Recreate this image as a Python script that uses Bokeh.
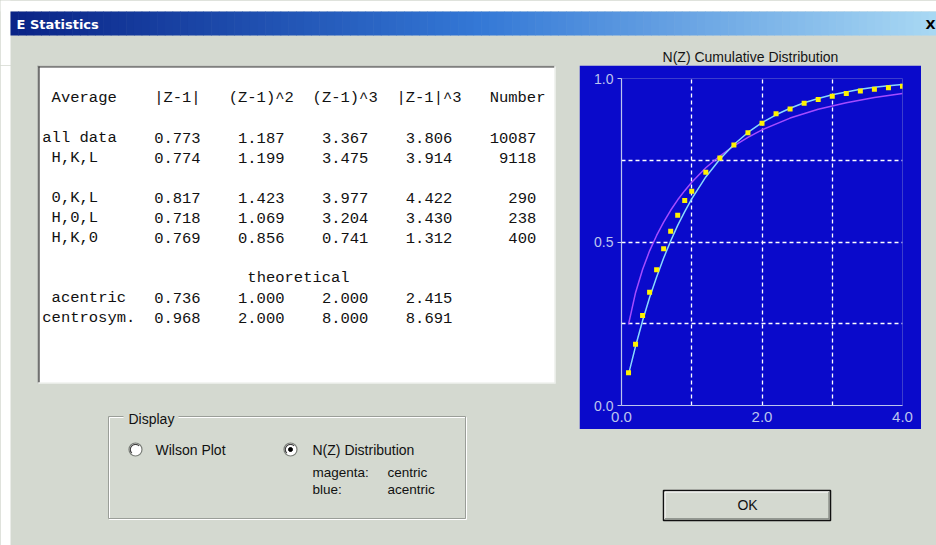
import numpy as np
from bokeh.plotting import figure
from bokeh.layouts import column, row
from bokeh.models import Range1d, FixedTicker, PrintfTickFormatter
from bokeh.core.properties import value
from bokeh.embed import file_html
from bokeh.resources import INLINE

# ---------------- data ----------------
dialog_title = "E Statistics"
chart_title = "N(Z) Cumulative Distribution"

header = ["Average", "|Z-1|", "(Z-1)^2", "(Z-1)^3", "|Z-1|^3", "Number"]

obs_labels = ["all data", " H,K,L", " 0,K,L", " H,0,L", " H,K,0"]
obs_abs_z1 = [0.773, 0.774, 0.817, 0.718, 0.769]
obs_sq_z1 = [1.187, 1.199, 1.423, 1.069, 0.856]
obs_cube_z1 = [3.367, 3.475, 3.977, 3.204, 0.741]
obs_abscube_z1 = [3.806, 3.914, 4.422, 3.430, 1.312]
obs_number = [10087, 9118, 290, 238, 400]

theo_title = "theoretical"
theo_labels = [" acentric", "centrosym."]
theo_abs_z1 = [0.736, 0.968]
theo_sq_z1 = [1.000, 2.000]
theo_cube_z1 = [2.000, 8.000]
theo_abscube_z1 = [2.415, 8.691]

# N(Z) cumulative distribution
obs_z = [0.1, 0.2, 0.3, 0.4, 0.5, 0.6, 0.7, 0.8, 0.9, 1.0, 1.2, 1.4, 1.6,
         1.8, 2.0, 2.2, 2.4, 2.6, 2.8, 3.0, 3.2, 3.4, 3.6, 3.8, 4.0]
obs_nz = [0.100, 0.187, 0.275, 0.346, 0.415, 0.479, 0.533, 0.582, 0.627,
          0.655, 0.713, 0.757, 0.797, 0.834, 0.863, 0.892, 0.907, 0.924,
          0.936, 0.946, 0.954, 0.962, 0.967, 0.972, 0.976]
acentric_z = [0.1, 0.2, 0.3, 0.4, 0.5, 0.6, 0.7, 0.8, 0.9, 1.0, 1.2, 1.4, 1.6,
              1.8, 2.0, 2.2, 2.4, 2.6, 2.8, 3.0, 3.2, 3.4, 3.6, 3.8, 4.0]
acentric_nz = [0.095, 0.181, 0.259, 0.330, 0.393, 0.451, 0.503, 0.551, 0.593,
               0.632, 0.699, 0.753, 0.798, 0.835, 0.865, 0.889, 0.909, 0.926,
               0.939, 0.950, 0.959, 0.967, 0.973, 0.978, 0.982]
centric_z = [0.1, 0.2, 0.3, 0.4, 0.5, 0.6, 0.7, 0.8, 0.9, 1.0, 1.2, 1.4, 1.6,
             1.8, 2.0, 2.4, 2.8, 3.2, 3.6, 4.0]
centric_nz = [0.248, 0.345, 0.416, 0.473, 0.520, 0.561, 0.597, 0.629, 0.657,
              0.683, 0.727, 0.763, 0.794, 0.820, 0.843, 0.879, 0.906, 0.926,
              0.942, 0.954]

x_ticks = [0, 2, 4]
y_ticks = [0, 0.5, 1.0]
x_grid = [1, 2, 3, 4]
y_grid = [0.25, 0.5, 0.75, 1.0]

display_label = "Display"
radio_labels = ["Wilson Plot", "N(Z) Distribution"]
legend_names = ["magenta:", "blue:"]
legend_values = ["centric", "acentric"]
ok_label = "OK"

# ---------------- styles ----------------
BG = "#D4D9D0"
BLUE = "#0A0ACB"
AXIS_C = "#BCC4EE"
MONO = value("Liberation Mono")
SANS = value("Liberation Sans")


def canvas(w, h, x0, x1, y0, y1):
    p = figure(width=w, height=h, x_range=Range1d(x0, x1), y_range=Range1d(y1, y0),
               x_axis_type=None, y_axis_type=None, toolbar_location=None,
               output_backend="svg", min_border=0,
               background_fill_color=BG, border_fill_color=BG,
               outline_line_color=None)
    return p


# ---------------- title strip (page px 0..936 x 0..65) ----------------
top = canvas(936, 65, 0, 936, 0, 65)
top.quad(left=[0], right=[936], top=[0], bottom=[11], fill_color="white", line_color=None)
top.quad(left=[0], right=[10], top=[0], bottom=[65], fill_color="white", line_color=None)
edges = np.linspace(10, 936, 121)
t = (edges[:-1] - 10) / (936 - 10)
stops_t = [0.0, 0.5, 1.0]
stops_c = np.array([[10, 36, 135], [52, 120, 214], [170, 218, 244]])
cols = []
for tt in t:
    rgb = [np.interp(tt, stops_t, stops_c[:, k]) for k in range(3)]
    cols.append("#%02x%02x%02x" % tuple(int(v) for v in rgb))
top.quad(left=edges[:-1], right=edges[1:] + 0.6, top=11, bottom=35, fill_color=cols, line_color=None)
top.text(x=[16], y=[23.5], text=[dialog_title], text_color="white", text_font=value("DejaVu Sans"),
         text_font_style="bold", text_font_size="13px", text_baseline="middle")
top.text(x=[935], y=[23.5], text=["X"], text_color="black", text_font=value("DejaVu Sans"),
         text_font_style="bold", text_font_size="13px", text_baseline="middle", text_align="right")
top.text(x=[750], y=[56], text=[chart_title], text_color="#151515", text_font=SANS,
         text_font_size="14px", text_baseline="middle", text_align="center")

# ---------------- left panel: table + display group ----------------
left = canvas(579, 480, 0, 579, 65, 545)
left.quad(left=[0], right=[10], top=[65], bottom=[545], fill_color="white", line_color=None)
# table box
left.quad(left=[37], right=[555], top=[65], bottom=[383], fill_color="white", line_color=None)
left.multi_line(xs=[[37, 555], [37.5, 37.5]], ys=[[65.5, 65.5], [65, 383]], line_color="#8A8E88", line_width=1)
left.multi_line(xs=[[38, 554], [38.5, 38.5]], ys=[[66.5, 66.5], [66, 382]], line_color="#3A3A3A", line_width=1.2)
left.multi_line(xs=[[37, 555], [554.5, 554.5]], ys=[[382.5, 382.5], [65, 383]], line_color="#E8ECE6", line_width=1.2)

x0, cw, y0, lh = 41.8, 9.32, 97.3, 20.0
hdr_cols = [1, 12, 20, 29, 38, 48]
left.text(x=[x0 + c * cw for c in hdr_cols], y=[y0] * len(header), text=header,
          text_font=MONO, text_font_size="15.5px", text_color="#111111", text_baseline="middle")


def table_rows(labels, cols4, numbers, lines):
    lx = [x0 + (len(s) - len(s.lstrip())) * cw for s in labels]
    ly = [y0 + ln * lh for ln in lines]
    left.text(x=lx, y=ly, text=[s.strip() for s in labels], text_font=MONO,
              text_font_size="15.5px", text_color="#111111", text_baseline="middle")
    for c, vals in zip([12, 21, 30, 39], cols4):
        left.text(x=[x0 + c * cw] * len(vals), y=ly, text=["%.3f" % v for v in vals],
                  text_font=MONO, text_font_size="15.5px", text_color="#111111",
                  text_baseline="middle")
    if numbers:
        left.text(x=[x0 + 53 * cw] * len(numbers), y=ly, text=[str(n) for n in numbers],
                  text_font=MONO, text_font_size="15.5px", text_color="#111111",
                  text_baseline="middle", text_align="right")


table_rows(obs_labels, [obs_abs_z1, obs_sq_z1, obs_cube_z1, obs_abscube_z1], obs_number, [2, 3, 5, 6, 7])
left.text(x=[x0 + 22 * cw], y=[y0 + 9 * lh], text=[theo_title], text_font=MONO,
          text_font_size="15.5px", text_color="#111111", text_baseline="middle")
table_rows(theo_labels, [theo_abs_z1, theo_sq_z1, theo_cube_z1, theo_abscube_z1], None, [10, 11])

# display group box (etched)
left.quad(left=[109], right=[466], top=[417], bottom=[519], fill_color=None, line_color="white", line_width=1)
left.quad(left=[108], right=[465], top=[416], bottom=[518], fill_color=None, line_color="#9A9E98", line_width=1)
left.quad(left=[123], right=[178], top=[409], bottom=[425], fill_color=BG, line_color=None)
left.text(x=[128], y=[418], text=[display_label], text_font=SANS, text_font_size="14px",
          text_color="#111111", text_baseline="middle")
radio_x = [135, 290]
left.scatter(x=radio_x, y=[449, 449], size=13, marker="circle", fill_color="white",
             line_color="#7A7E78", line_width=1.2)
left.arc(x=radio_x, y=[449, 449], radius=5.2, start_angle=np.pi * 0.25, end_angle=np.pi * 1.25,
         line_color="#404040", line_width=1.2)
left.scatter(x=[radio_x[1]], y=[449], size=4, marker="circle", fill_color="black", line_color="black")
left.text(x=[155, 312], y=[449, 449], text=radio_labels, text_font=SANS, text_font_size="14px",
          text_color="#111111", text_baseline="middle")
left.text(x=[312, 312], y=[472, 489], text=legend_names, text_font=SANS, text_font_size="13.5px",
          text_color="#111111", text_baseline="middle")
left.text(x=[387, 387], y=[472, 489], text=legend_values, text_font=SANS, text_font_size="13.5px",
          text_color="#111111", text_baseline="middle")

# ---------------- chart (page px 579..921 x 65..429) ----------------
chart = figure(width=342, height=364, x_range=Range1d(0, 4), y_range=Range1d(0, 1),
               toolbar_location=None, output_backend="svg",
               min_border_left=42, min_border_right=19, min_border_top=13, min_border_bottom=24,
               background_fill_color=BLUE, border_fill_color=BLUE, outline_line_color=None)
chart.xaxis.ticker = FixedTicker(ticks=x_ticks)
chart.yaxis.ticker = FixedTicker(ticks=y_ticks)
chart.xaxis.formatter = PrintfTickFormatter(format="%.1f")
chart.yaxis.formatter = PrintfTickFormatter(format="%.1f")
for ax in (chart.xaxis, chart.yaxis):
    ax.axis_line_color = AXIS_C
    ax.axis_line_width = 1.2
    ax.major_tick_line_color = AXIS_C
    ax.minor_tick_line_color = None
    ax.major_tick_in = 0
    ax.major_label_text_color = AXIS_C
    ax.major_label_text_font = "Liberation Sans"
chart.xaxis.major_tick_out = 0
chart.xaxis.major_label_standoff = 6
chart.xaxis.major_label_text_font_size = "15px"
chart.yaxis.major_tick_out = 4
chart.yaxis.major_label_standoff = 4
chart.yaxis.major_label_text_font_size = "14px"
chart.xgrid.ticker = FixedTicker(ticks=x_grid)
chart.ygrid.ticker = FixedTicker(ticks=y_grid)
for g in (chart.xgrid, chart.ygrid):
    g.grid_line_color = "white"
    g.grid_line_dash = "4 3"
    g.grid_line_width = 1.3
    g.grid_line_alpha = 1.0

chart.line(centric_z, centric_nz, line_color="#A54CFF", line_width=1.5)
chart.line(acentric_z, acentric_nz, line_color="#88D8FF", line_width=1.5)
chart.scatter(obs_z, obs_nz, marker="square", size=5, fill_color="#FFF200", line_color=None)

pad = canvas(15, 364, 0, 15, 0, 364)
pad.scatter(x=[-10], y=[-10], size=1, alpha=0)

# ---------------- OK button (page px 579..936 x 429..545) ----------------
okf = canvas(357, 116, 579, 936, 429, 545)
okf.quad(left=[663], right=[830], top=[490], bottom=[520], fill_color=BG, line_color="#111111", line_width=1.5)
okf.multi_line(xs=[[664.5, 828.5], [664.5, 664.5]], ys=[[491.5, 491.5], [491.5, 518.5]], line_color="white", line_width=1)
okf.multi_line(xs=[[664.5, 828.5], [828.5, 828.5]], ys=[[518.3, 518.3], [491.5, 518.5]], line_color="#7E827C", line_width=1.2)
okf.text(x=[747], y=[504.5], text=[ok_label], text_font=SANS, text_font_size="14px",
         text_color="#111111", text_baseline="middle", text_align="center")

layout = column(top, row(left, column(row(chart, pad), okf)))

html = file_html(layout, INLINE)
html = html.replace("<head>", "<head><style>body{background:%s;}</style>" % BG, 1)
open("out.html", "w").write(html)
